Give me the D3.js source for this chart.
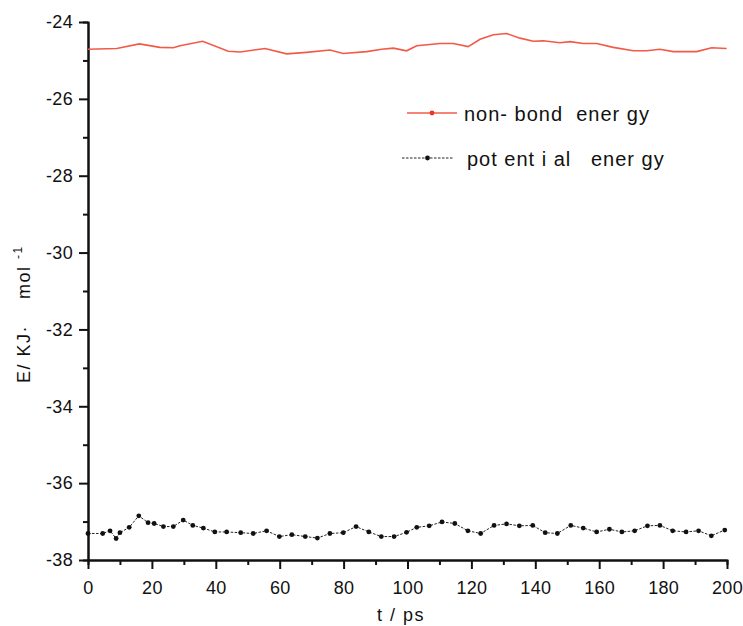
<!DOCTYPE html>
<html>
<head>
<meta charset="utf-8">
<title>Energy vs time</title>
<script src="https://d3js.org/d3.v7.min.js"></script>
<style>
  body { margin: 0; background: #fff; }
  svg text { font-family: "Liberation Sans", Arial, sans-serif; fill: #111; }
</style>
</head>
<body>
<svg id="chart" width="743" height="626"></svg>
<script>
// non-bond energy (red line)
var tNonBond = [0, 9, 16.1, 22.5, 26.7, 28.8, 35.9, 43.9, 47.6, 55.4, 62.2, 68.4, 75.7, 79.9, 87.2, 91.9, 95.6, 99.7,
  102.9, 110.2, 114.3, 119, 122.7, 126.9, 131, 135.2, 139.4, 142.5, 147.7, 150.9, 155, 159.2, 164.4, 170.7,
  174.9, 179, 183.2, 190.5, 195.2, 199.9];
var eNonBond = [-24.71, -24.69, -24.57, -24.66, -24.67, -24.62, -24.50, -24.76, -24.78, -24.69, -24.83, -24.79,
  -24.73, -24.82, -24.77, -24.71, -24.68, -24.75, -24.62, -24.56, -24.56, -24.64, -24.45, -24.33, -24.30,
  -24.42, -24.50, -24.49, -24.54, -24.51, -24.56, -24.56, -24.66, -24.75, -24.75, -24.71, -24.77, -24.77,
  -24.67, -24.69];

// potential energy (black dotted line)
var tPotential = [0, 4.6, 6.9, 8.8, 10, 12.9, 15.9, 18.8, 20.7, 23.6, 26.7, 29.8, 32.8, 36.1, 39.7, 43.4, 47.8,
  51.7, 55.9, 59.9, 63.8, 68, 71.8, 75.7, 79.9, 83.9, 87.9, 91.8, 95.8, 99.7,
  102.9, 106.8, 110.8, 114.8, 118.9, 122.9, 127.1, 131, 135, 139.2, 143.1, 146.9, 151.1, 155, 159.2, 163.2,
  167.1, 171.1, 175.1, 179, 183, 187.2, 191.1, 195.1, 199.3];
var ePotential = [-37.31, -37.31, -37.24, -37.44, -37.29, -37.15, -36.85, -37.03, -37.05, -37.13, -37.13, -36.96,
  -37.10, -37.17, -37.27, -37.27, -37.29, -37.31, -37.24, -37.39, -37.34, -37.39, -37.43, -37.31, -37.29,
  -37.13, -37.27, -37.39, -37.39, -37.28,
  -37.15, -37.11, -37.01, -37.05, -37.24, -37.31, -37.10, -37.06, -37.11, -37.10, -37.29, -37.31, -37.10,
  -37.17, -37.27, -37.20, -37.27, -37.24, -37.11, -37.10, -37.24, -37.27, -37.24, -37.37, -37.22];

var xMajor = [0, 20, 40, 60, 80, 100, 120, 140, 160, 180, 200];
var xMinor = [10, 30, 50, 70, 90, 110, 130, 150, 170, 190];
var yMajor = [-24, -26, -28, -30, -32, -34, -36, -38];
var yMinor = [-25, -27, -29, -31, -33, -35, -37];

var seriesNames = ["non- bond  ener gy", "pot ent i al   ener gy"];

var svg = d3.select("#chart");
var x = d3.scaleLinear().domain([0, 200]).range([88, 727]);
var y = d3.scaleLinear().domain([-38, -24]).range([560, 22]);

function styleAxis(g) {
  g.select(".domain").attr("stroke", "#111").attr("stroke-width", 2);
  g.selectAll(".tick line").attr("stroke", "#111").attr("stroke-width", 2);
  g.selectAll("text").attr("font-size", 18).attr("letter-spacing", 0.3);
}

// minor ticks
svg.append("g")
  .attr("transform", "translate(0,560)")
  .call(d3.axisBottom(x).tickValues(xMinor).tickSize(5).tickFormat(""))
  .call(styleAxis);
svg.append("g")
  .attr("transform", "translate(88,0)")
  .call(d3.axisLeft(y).tickValues(yMinor).tickSize(5).tickFormat(""))
  .call(styleAxis);

// major ticks and labels
svg.append("g")
  .attr("transform", "translate(0,560)")
  .call(d3.axisBottom(x).tickValues(xMajor).tickSize(9).tickSizeOuter(0).tickPadding(12).tickFormat(function(d) { return String(d); }))
  .call(styleAxis);
svg.append("g")
  .attr("transform", "translate(88,0)")
  .call(d3.axisLeft(y).tickValues(yMajor).tickSize(9).tickSizeOuter(0).tickPadding(6).tickFormat(function(d) { return String(d); }))
  .call(styleAxis);

// axis titles
svg.append("text")
  .attr("x", 401).attr("y", 621)
  .attr("text-anchor", "middle")
  .attr("font-size", 18)
  .attr("letter-spacing", 1.5)
  .attr("xml:space", "preserve")
  .text("t / ps");

var yTitle = svg.append("text")
  .attr("transform", "translate(30,383) rotate(-90)")
  .attr("font-size", 18)
  .attr("letter-spacing", 1.5)
  .attr("xml:space", "preserve");
yTitle.append("tspan").text("E/ KJ·    mol ");
yTitle.append("tspan").attr("dy", -8).attr("font-size", 12).text("-1");

// lines
var line = d3.line()
  .x(function(d) { return x(d[0]); })
  .y(function(d) { return y(d[1]); });

var nonBond = tNonBond.map(function(t, i) { return [t, eNonBond[i]]; });
var potential = tPotential.map(function(t, i) { return [t, ePotential[i]]; });

svg.append("path")
  .datum(nonBond)
  .attr("d", line)
  .attr("fill", "none")
  .attr("stroke", "#f25a48")
  .attr("stroke-width", 1.6);

svg.append("path")
  .datum(potential)
  .attr("d", line)
  .attr("fill", "none")
  .attr("stroke", "#222")
  .attr("stroke-width", 1)
  .attr("stroke-dasharray", "2.5,1.5");

svg.selectAll(".pt")
  .data(potential)
  .enter().append("circle")
  .attr("class", "pt")
  .attr("cx", function(d) { return x(d[0]); })
  .attr("cy", function(d) { return y(d[1]); })
  .attr("r", 2.4)
  .attr("fill", "#111");

// legend
var legend = svg.append("g");
var rows = [
  { name: seriesNames[0], color: "#f25a48", dash: null, x1: 407, x2: 457, ty: 113, tx: 464 },
  { name: seriesNames[1], color: "#222", dash: "2.5,1.5", x1: 402, x2: 453, ty: 158, tx: 467 }
];
rows.forEach(function(r) {
  legend.append("line")
    .attr("x1", r.x1).attr("x2", r.x2).attr("y1", r.ty).attr("y2", r.ty)
    .attr("stroke", r.color).attr("stroke-width", r.dash ? 1 : 1.6)
    .attr("stroke-dasharray", r.dash);
  legend.append("circle")
    .attr("cx", (r.x1 + r.x2) / 2).attr("cy", r.ty).attr("r", 2.4)
    .attr("fill", r.color === "#222" ? "#111" : "#e8382a");
  legend.append("text")
    .attr("x", r.tx).attr("y", r.ty + 8)
    .attr("font-size", 20)
    .attr("letter-spacing", 1)
    .attr("xml:space", "preserve")
    .text(r.name);
});
</script>
</body>
</html>
